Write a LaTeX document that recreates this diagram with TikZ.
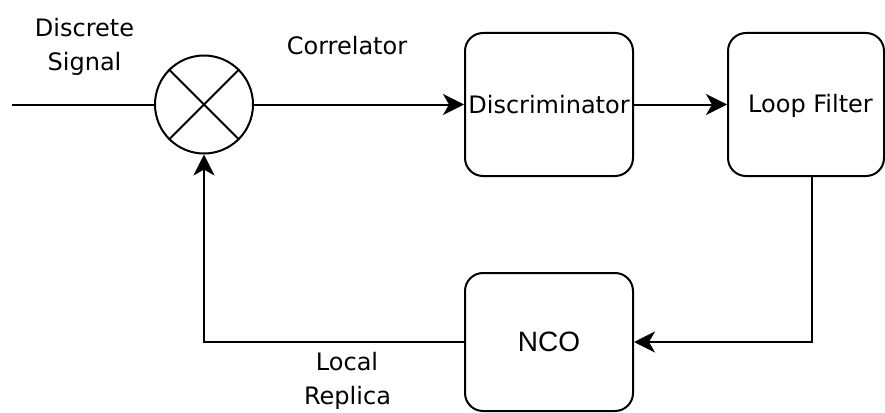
\documentclass[tikz,border=0pt]{standalone}
\usepackage{fontspec}
\setmainfont{DejaVu Sans}
\newfontfamily\ncofont{Liberation Sans}
\usetikzlibrary{arrows.meta}

\tikzset{
  wire/.style={line width=2pt, line join=miter},
  flow/.style={wire, -{Stealth[length=21pt, width=21pt, inset=6pt]}},
  block/.style={draw, line width=2pt, rounded corners=18pt, inner sep=0pt,
                minimum width=168pt, minimum height=143pt,
                font=\fontsize{24}{34}\selectfont},
  lbl/.style={inner sep=0pt, anchor=base, font=\fontsize{24}{34}\selectfont},
}

\begin{document}
\begin{tikzpicture}[x=1pt, y=-1pt]
  \useasboundingbox (0,0) rectangle (885,412);
  \clip (0,0) rectangle (885,412);

  % mixer (correlator)
  \node[draw, circle, line width=2pt, minimum size=98pt, inner sep=0pt] (mix) at (204,104.5) {};
  \draw[wire] (mix.45) -- (mix.225);
  \draw[wire] (mix.135) -- (mix.315);

  % processing blocks
  \node[block] (disc) at (549,104.5) {Discriminator};
  \node[block, minimum width=156pt] (loop) at (806,104.5) {};
  \node[lbl] (looptxt) at (810.5,112.7) {Loop Filter};
  \node[block, minimum height=138pt, font=\ncofont\fontsize{28}{34}\selectfont] (nco) at (549,342) {NCO};

  % labels
  \node[lbl] (ds1) at (84.5,36.7) {Discrete};
  \node[lbl] (ds2) at (84.5,70.7) {Signal};
  \node[lbl] (cor) at (347,54.3) {Correlator};
  \node[lbl] (lr1) at (347,370.7) {Local};
  \node[lbl] (lr2) at (347.5,404.7) {Replica};

  % connectors
  \coordinate (in) at (12,104.5);
  \draw[wire] (in) -- (mix.west);
  \draw[flow] (mix.east) -- (disc.west);
  \draw[flow] (disc.east) -- (loop.west);
  \draw[flow] ([xshift=6pt]loop.south) |- (nco.east);
  \draw[flow] (nco.west) -| (mix.south);
\end{tikzpicture}
\end{document}
